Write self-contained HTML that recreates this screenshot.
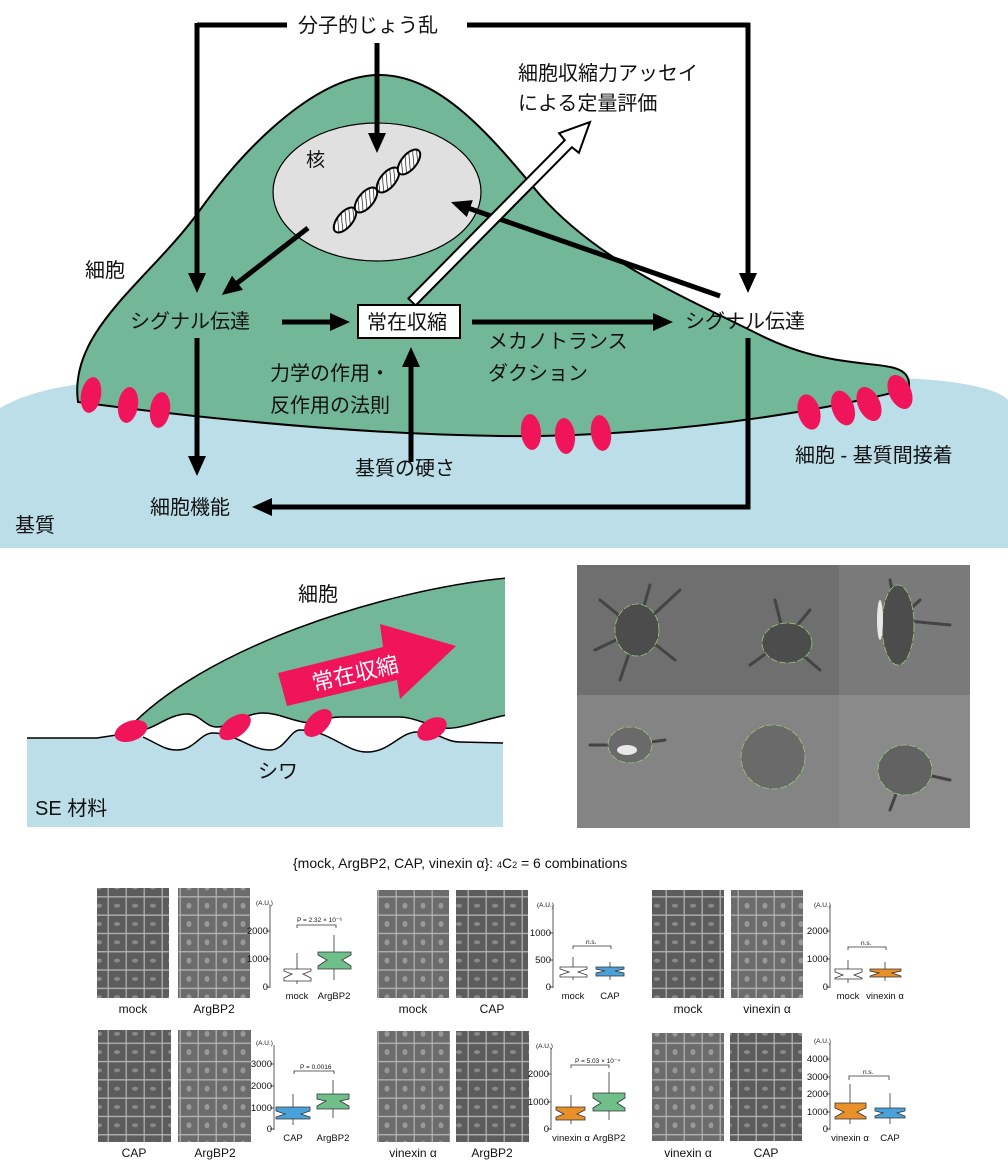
<!DOCTYPE html>
<html><head><meta charset="utf-8"><style>
html,body{margin:0;padding:0;background:#fff;}
svg{display:block;}
text{font-family:"Liberation Sans","Noto Sans CJK JP",sans-serif;fill:#111;}
</style></head><body>
<svg width="1008" height="1169" viewBox="0 0 1008 1169" xmlns="http://www.w3.org/2000/svg">
<defs>
<marker id="ah" markerUnits="userSpaceOnUse" markerWidth="20" markerHeight="18" refX="2" refY="9" orient="auto">
<path d="M0,0 L20,9 L0,18 Z" fill="#000"/></marker>
<pattern id="hatch" width="4" height="4" patternUnits="userSpaceOnUse" patternTransform="rotate(45)">
<rect width="4" height="4" fill="#fff"/><line x1="0" y1="0" x2="0" y2="4" stroke="#000" stroke-width="1.3"/></pattern>
<pattern id="grid" width="18" height="18.3" patternUnits="userSpaceOnUse">
<rect width="18" height="18.3" fill="#b5b5b5"/><rect x="0.8" y="0.8" width="16.8" height="17" fill="#5c5c5c"/>
<ellipse cx="9" cy="9" rx="3" ry="2" fill="#8a8a8a"/></pattern>
<pattern id="grid2" width="18" height="18.3" patternUnits="userSpaceOnUse">
<rect width="18" height="18.3" fill="#b5b5b5"/><rect x="0.8" y="0.8" width="16.8" height="17" fill="#6c6c6c"/>
<ellipse cx="9" cy="9" rx="2.5" ry="3" fill="#999"/></pattern>
</defs>

<path d="M0,408 C40,385 100,378 200,378 L880,378 C960,378 1000,390 1008,400 L1008,548 L0,548 Z" fill="#bcdee9"/>
<path d="M78,402 C68,330 150,280 200,210 C250,140 320,75 379,75 C440,75 490,135 540,195 C600,262 680,295 760,335 C850,380 912,350 909,388 C880,398 700,438 500,436 C350,434 200,418 78,402 Z" fill="#73b799" stroke="#000" stroke-width="2"/>
<g fill="#f0145a">
<ellipse cx="91" cy="395" rx="10" ry="18" transform="rotate(10 91 395)"/>
<ellipse cx="128" cy="405" rx="10" ry="18" transform="rotate(8 128 405)"/>
<ellipse cx="160" cy="410" rx="10" ry="18" transform="rotate(8 160 410)"/>
<ellipse cx="531" cy="432" rx="10" ry="18" transform="rotate(-5 531 432)"/>
<ellipse cx="565" cy="436" rx="10" ry="18" transform="rotate(-5 565 436)"/>
<ellipse cx="601" cy="433" rx="10" ry="18" transform="rotate(-8 601 433)"/>
<ellipse cx="809" cy="412" rx="11" ry="18" transform="rotate(-15 809 412)"/>
<ellipse cx="843" cy="408" rx="11" ry="18" transform="rotate(-20 843 408)"/>
<ellipse cx="869" cy="404" rx="11" ry="18" transform="rotate(-25 869 404)"/>
<ellipse cx="900" cy="392" rx="11" ry="18" transform="rotate(-25 900 392)"/>
</g>
<ellipse cx="377" cy="192" rx="104" ry="69" fill="#e0e0e0" stroke="#000" stroke-width="1.2"/>
<text x="306" y="166" font-size="19">核</text>
<g stroke="#000" stroke-width="2" fill="url(#hatch)">
<ellipse cx="345" cy="220" rx="15" ry="7.5" transform="rotate(-50 345 220)"/>
<ellipse cx="366" cy="200" rx="15" ry="7.5" transform="rotate(-50 366 200)"/>
<ellipse cx="388" cy="180" rx="15" ry="7.5" transform="rotate(-50 388 180)"/>
<ellipse cx="409" cy="162" rx="15" ry="7.5" transform="rotate(-50 409 162)"/>
</g>

<g stroke="#000" stroke-width="5" fill="none">
<polyline points="197,25 287,25"/>
<polyline points="467,25 750,25"/>
<line x1="197" y1="23" x2="197" y2="275" marker-end="url(#ah)"/>
<line x1="748" y1="23" x2="748" y2="275" marker-end="url(#ah)"/>
<line x1="377" y1="43" x2="377" y2="135" marker-end="url(#ah)"/>
<line x1="308" y1="228" x2="236" y2="284" marker-end="url(#ah)"/>
<line x1="282" y1="322" x2="332" y2="322" marker-end="url(#ah)"/>
<line x1="472" y1="322" x2="655" y2="322" marker-end="url(#ah)"/>
<line x1="720" y1="296" x2="468" y2="208" marker-end="url(#ah)"/>
<line x1="411" y1="462" x2="411" y2="365" marker-end="url(#ah)"/>
<line x1="197" y1="338" x2="197" y2="458" marker-end="url(#ah)"/>
<polyline points="748,338 748,507 270,507" marker-end="url(#ah)"/>
</g>
<polygon points="415.6,305.5 571.9,147.2 578.9,152.8 590,122 559.1,133.2 564.8,140.2 408.4,298.5" fill="#fff" stroke="#000" stroke-width="2"/>
<rect x="358" y="305" width="102" height="33" fill="#fff" stroke="#000" stroke-width="2"/>
<g font-size="20">
<text x="367" y="329">常在収縮</text>
<text x="298" y="32">分子的じょう乱</text>
<text x="518" y="80">細胞収縮力アッセイ</text>
<text x="518" y="110">による定量評価</text>
<text x="85" y="277">細胞</text>
<text x="130" y="328">シグナル伝達</text>
<text x="685" y="328">シグナル伝達</text>
<text x="488" y="348">メカノトランス</text>
<text x="488" y="380">ダクション</text>
<text x="270" y="380">力学の作用・</text>
<text x="270" y="412">反作用の法則</text>
<text x="355" y="475">基質の硬さ</text>
<text x="795" y="462">細胞 - 基質間接着</text>
<text x="150" y="514">細胞機能</text>
<text x="15" y="532">基質</text>
</g>

<path d="M27,738 L97,738 L130,733 L143,737 C160,745 165,750 177,750 C195,750 200,733 213,733 C235,733 250,750 270,750 C285,750 290,730 300,730 C330,730 345,752 367,752 C390,752 400,732 417,732 C440,732 445,742 460,742 L503,743 L503,827 L27,827 Z" fill="#bcdee9"/>
<path d="M27,738 L97,738 L130,733 M143,737 C160,745 165,750 177,750 C195,750 200,733 213,733 C235,733 250,750 270,750 C285,750 290,730 300,730 C330,730 345,752 367,752 C390,752 400,732 417,732 C440,732 445,742 460,742 L503,743" fill="none" stroke="#000" stroke-width="1.5"/>
<path d="M127,730 C200,650 380,590 507,578 L507,715 C480,720 460,730 443,728 C420,722 410,717 400,717 C370,717 350,717 340,717 C325,717 320,723 313,723 C295,723 280,713 263,713 C245,713 230,727 217,727 C205,727 200,714 187,714 C170,714 155,728 143,730 Z" fill="#73b799" stroke="#000" stroke-width="1.5"/>
<rect x="505" y="576" width="4" height="140" fill="#fff"/>
<g fill="#f0145a">
<ellipse cx="131" cy="731" rx="17" ry="10" transform="rotate(-20 131 731)"/>
<ellipse cx="235" cy="727" rx="18" ry="10" transform="rotate(-35 235 727)"/>
<ellipse cx="318" cy="723" rx="17" ry="10" transform="rotate(-45 318 723)"/>
<ellipse cx="432" cy="729" rx="16" ry="10" transform="rotate(-30 432 729)"/>
</g>
<polygon points="278,673 383,647 380,624 456,646 400,699 397,680 287,706" fill="#f0145a"/>
<text x="0" y="0" font-size="22" transform="translate(314,691) rotate(-13)" style="fill:#fff">常在収縮</text>
<text x="298" y="601" font-size="20">細胞</text>
<text x="258" y="778" font-size="20">シワ</text>
<text x="35" y="815" font-size="20">SE 材料</text>

<rect x="577" y="565" width="393" height="130" fill="#6f6f6f"/>
<rect x="577" y="695" width="393" height="133" fill="#848484"/>
<rect x="839" y="565" width="131" height="130" fill="#7a7a7a"/>
<rect x="839" y="695" width="131" height="133" fill="#8a8a8a"/>
<g fill="none" stroke="#444" stroke-width="3" stroke-linecap="round">
<path d="M637,630 L600,600 M637,630 L680,590 M637,630 L675,660 M637,630 L620,680 M637,630 L595,650 M637,630 L650,585"/>
<path d="M785,640 L775,600 M785,640 L820,670 M785,640 L750,665 M785,640 L810,610"/>
<path d="M898,620 L920,600 M898,620 L950,625 M898,620 L890,580"/>
<path d="M630,745 L590,745 M630,745 L665,740"/>
<path d="M905,770 L950,780 M905,770 L890,810"/>
</g>
<g fill="#4c4c4c" stroke="#9bc97a" stroke-width="0.8" stroke-dasharray="7 2">
<ellipse cx="637" cy="630" rx="22" ry="26"/>
<ellipse cx="787" cy="643" rx="25" ry="20"/>
<ellipse cx="898" cy="625" rx="16" ry="40"/>
<ellipse cx="630" cy="745" rx="22" ry="18" fill="#6a6a6a"/>
<ellipse cx="773" cy="757" rx="32" ry="32" fill="#6a6a6a"/>
<ellipse cx="905" cy="770" rx="27" ry="25" fill="#626262"/>
</g>
<g fill="#e8e8e8"><ellipse cx="627" cy="750" rx="10" ry="5"/><ellipse cx="880" cy="620" rx="3" ry="20"/></g>
<rect x="970" y="565" width="38" height="263" fill="#fff"/>

<text x="293" y="868" font-size="14">{mock, ArgBP2, CAP, vinexin α}: <tspan font-size="9">4</tspan>C<tspan font-size="9">2</tspan> = 6 combinations</text>

<g>
<rect x="97" y="888" width="72" height="110" fill="url(#grid)"/>
<rect x="178" y="888" width="72" height="110" fill="url(#grid2)"/>
<rect x="377" y="890" width="72" height="108" fill="url(#grid2)"/>
<rect x="456" y="890" width="72" height="108" fill="url(#grid)"/>
<rect x="652" y="890" width="72" height="108" fill="url(#grid)"/>
<rect x="731" y="890" width="72" height="108" fill="url(#grid2)"/>
<rect x="98" y="1030" width="73" height="112" fill="url(#grid)"/>
<rect x="178" y="1030" width="73" height="112" fill="url(#grid2)"/>
<rect x="377" y="1031" width="73" height="111" fill="url(#grid2)"/>
<rect x="456" y="1031" width="73" height="111" fill="url(#grid)"/>
<rect x="652" y="1033" width="72" height="108" fill="url(#grid2)"/>
<rect x="730" y="1033" width="72" height="108" fill="url(#grid)"/>
</g>
<g font-size="12" text-anchor="middle">
<text x="133" y="1013">mock</text><text x="214" y="1013">ArgBP2</text>
<text x="413" y="1013">mock</text><text x="492" y="1013">CAP</text>
<text x="688" y="1013">mock</text><text x="767" y="1013">vinexin α</text>
<text x="134" y="1157">CAP</text><text x="215" y="1157">ArgBP2</text>
<text x="413" y="1157">vinexin α</text><text x="492" y="1157">ArgBP2</text>
<text x="688" y="1157">vinexin α</text><text x="766" y="1157">CAP</text>
</g>

<g stroke="#333" stroke-width="0.8" font-size="9">
<g>
<line x1="270" y1="905" x2="270" y2="988"/>
<line x1="266" y1="931" x2="270" y2="931"/><line x1="266" y1="959" x2="270" y2="959"/><line x1="266" y1="987" x2="270" y2="987"/>
<line x1="297" y1="953" x2="297" y2="984"/><line x1="334" y1="935" x2="334" y2="980"/>
<polygon points="284,969 311,969 311,971 303,974 311,978 311,981 284,981 284,978 292,974 284,971" fill="#fff"/>
<polygon points="318,952 351,952 351,955 342,960 351,966 351,969 318,969 318,966 327,960 318,955" fill="#6fbf8a"/>
<polyline points="297,928 297,925 336,925 336,928" fill="none"/>
</g>
<g>
<line x1="553" y1="905" x2="553" y2="988"/>
<line x1="549" y1="933" x2="553" y2="933"/><line x1="549" y1="960" x2="553" y2="960"/><line x1="549" y1="987" x2="553" y2="987"/>
<line x1="573" y1="957" x2="573" y2="980"/><line x1="610" y1="962" x2="610" y2="980"/>
<polygon points="560,967 587,967 587,969 578,972 587,975 587,977 560,977 560,975 569,972 560,969" fill="#fff"/>
<polygon points="596,967 624,967 624,969 615,971 624,973 624,976 596,976 596,973 605,971 596,969" fill="#4aa3d8"/>
<polyline points="573,949 573,946 611,946 611,949" fill="none"/>
</g>
<g>
<line x1="830" y1="905" x2="830" y2="988"/>
<line x1="826" y1="931" x2="830" y2="931"/><line x1="826" y1="959" x2="830" y2="959"/><line x1="826" y1="987" x2="830" y2="987"/>
<line x1="848" y1="960" x2="848" y2="983"/><line x1="885" y1="962" x2="885" y2="981"/>
<polygon points="835,969 862,969 862,972 854,975 862,978 862,979 835,979 835,978 843,975 835,972" fill="#fff"/>
<polygon points="870,969 901,969 901,971 892,973 901,976 901,977 870,977 870,976 879,973 870,971" fill="#e8902a"/>
<polyline points="848,950 848,947 886,947 886,950" fill="none"/>
</g>
<g>
<line x1="274" y1="1045" x2="274" y2="1130"/>
<line x1="270" y1="1064" x2="274" y2="1064"/><line x1="270" y1="1086" x2="274" y2="1086"/><line x1="270" y1="1108" x2="274" y2="1108"/><line x1="270" y1="1129" x2="274" y2="1129"/>
<line x1="293" y1="1094" x2="293" y2="1125"/><line x1="333" y1="1080" x2="333" y2="1118"/>
<polygon points="276,1107 310,1107 310,1111 301,1114 310,1117 310,1119 276,1119 276,1117 285,1114 276,1111" fill="#4aa3d8"/>
<polygon points="317,1094 349,1094 349,1099 340,1101 349,1106 349,1109 317,1109 317,1106 326,1101 317,1099" fill="#6fbf8a"/>
<polyline points="294,1074 294,1071 334,1071 334,1074" fill="none"/>
</g>
<g>
<line x1="551" y1="1048" x2="551" y2="1130"/>
<line x1="547" y1="1074" x2="551" y2="1074"/><line x1="547" y1="1102" x2="551" y2="1102"/><line x1="547" y1="1129" x2="551" y2="1129"/>
<line x1="571" y1="1095" x2="571" y2="1124"/><line x1="609" y1="1072" x2="609" y2="1120"/>
<polygon points="556,1107 585,1107 585,1110 577,1114 585,1117 585,1120 556,1120 556,1117 564,1114 556,1110" fill="#e8902a"/>
<polygon points="593,1093 625,1093 625,1098 617,1103 625,1108 625,1111 593,1111 593,1108 601,1103 593,1098" fill="#6fbf8a"/>
<polyline points="571,1068 571,1065 609,1065 609,1068" fill="none"/>
</g>
<g>
<line x1="830" y1="1043" x2="830" y2="1130"/>
<line x1="826" y1="1059" x2="830" y2="1059"/><line x1="826" y1="1077" x2="830" y2="1077"/><line x1="826" y1="1094" x2="830" y2="1094"/><line x1="826" y1="1112" x2="830" y2="1112"/><line x1="826" y1="1129" x2="830" y2="1129"/>
<line x1="850" y1="1084" x2="850" y2="1124"/><line x1="890" y1="1093" x2="890" y2="1124"/>
<polygon points="835,1103 866,1103 866,1108 857,1112 866,1117 866,1119 835,1119 835,1117 844,1112 835,1108" fill="#e8902a"/>
<polygon points="875,1108 905,1108 905,1111 897,1113 905,1116 905,1118 875,1118 875,1116 883,1113 875,1111" fill="#4aa3d8"/>
<polyline points="849,1080 849,1076 889,1076 889,1080" fill="none"/>
</g>
</g>
<g font-size="9.5" text-anchor="end" style="fill:#222">
<text x="268" y="934">2000</text><text x="268" y="962">1000</text><text x="268" y="990">0</text>
<text x="551" y="936">1000</text><text x="551" y="963">500</text><text x="551" y="990">0</text>
<text x="828" y="934">2000</text><text x="828" y="962">1000</text><text x="828" y="990">0</text>
<text x="272" y="1067">3000</text><text x="272" y="1089">2000</text><text x="272" y="1111">1000</text><text x="272" y="1132">0</text>
<text x="549" y="1077">2000</text><text x="549" y="1105">1000</text><text x="549" y="1132">0</text>
<text x="828" y="1062">4000</text><text x="828" y="1080">3000</text><text x="828" y="1097">2000</text><text x="828" y="1115">1000</text><text x="828" y="1132">0</text>
</g>
<g font-size="6.5" style="fill:#222">
<text x="256" y="905">(A.U.)</text><text x="537" y="907">(A.U.)</text><text x="814" y="907">(A.U.)</text>
<text x="256" y="1045">(A.U.)</text><text x="536" y="1048">(A.U.)</text><text x="814" y="1043">(A.U.)</text>
<text x="297" y="922">P = 2.32 × 10⁻⁶</text><text x="586" y="944">n.s.</text><text x="861" y="945">n.s.</text>
<text x="300" y="1069">P = 0.0016</text><text x="575" y="1063">P = 5.03 × 10⁻⁴</text><text x="863" y="1074">n.s.</text>
</g>
<g font-size="9.5" text-anchor="middle" style="fill:#222">
<text x="297" y="999">mock</text><text x="334" y="999">ArgBP2</text>
<text x="573" y="999">mock</text><text x="610" y="999">CAP</text>
<text x="848" y="999">mock</text><text x="885" y="999">vinexin α</text>
<text x="293" y="1141">CAP</text><text x="333" y="1141">ArgBP2</text>
<text x="571" y="1141">vinexin α</text><text x="609" y="1141">ArgBP2</text>
<text x="850" y="1141">vinexin α</text><text x="890" y="1141">CAP</text>
</g>
</svg>
</body></html>
